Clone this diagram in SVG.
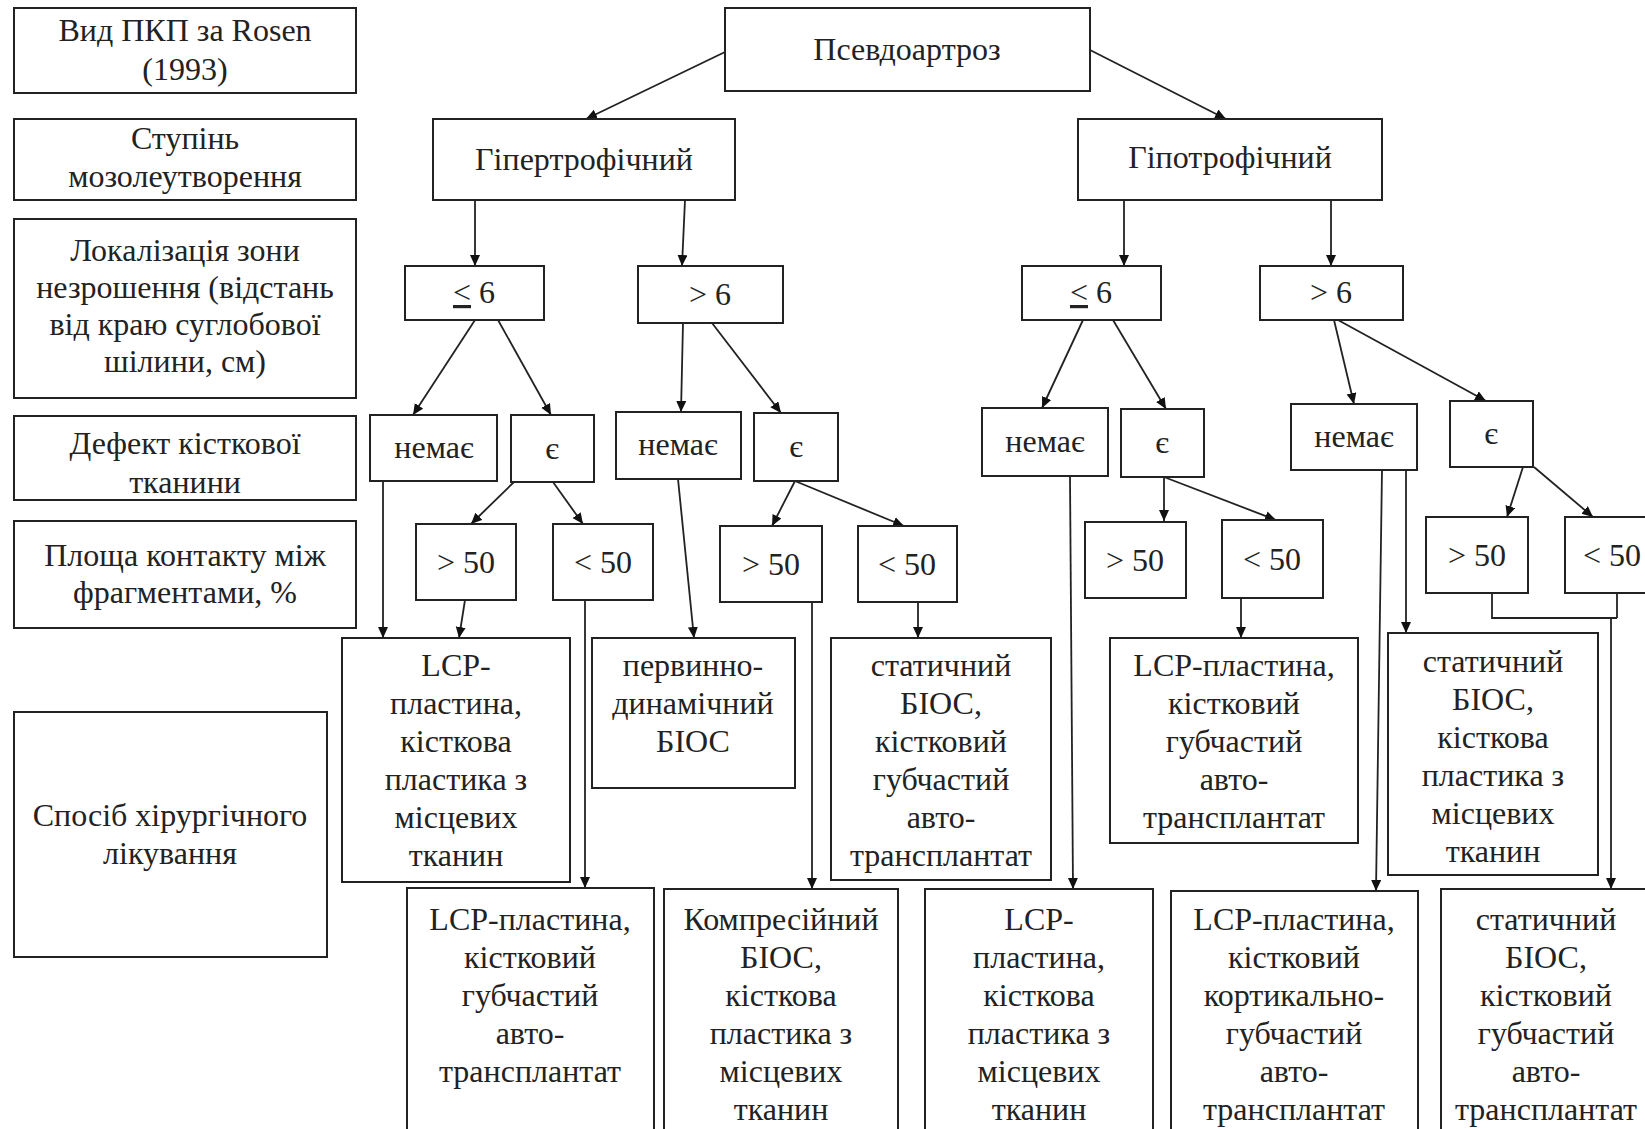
<svg xmlns="http://www.w3.org/2000/svg" width="1645" height="1129" viewBox="0 0 1645 1129">
<defs>
<marker id="ah" markerUnits="userSpaceOnUse" markerWidth="12" markerHeight="12" refX="11" refY="5" orient="auto">
<path d="M0,0 L11,5 L0,10 z" fill="#111"/>
</marker>
<style>
rect{fill:#fff;stroke:#222;stroke-width:2}
text{font-family:"Liberation Serif","Times New Roman",serif;font-size:32px;fill:#222;text-anchor:middle}
.c line,.c polyline{stroke:#222;stroke-width:1.8;fill:none}
.u{text-decoration:underline}
</style>
</defs>
<rect x="0" y="0" width="1645" height="1129" style="fill:#fff;stroke:none"/>

<g id="connectors" class="c">
<line x1="725" y1="52" x2="586" y2="119" marker-end="url(#ah)"/>
<line x1="1090" y1="50" x2="1226" y2="119" marker-end="url(#ah)"/>
<line x1="475" y1="200" x2="475" y2="266" marker-end="url(#ah)"/>
<line x1="685" y1="200" x2="682" y2="266" marker-end="url(#ah)"/>
<line x1="1124" y1="200" x2="1124" y2="266" marker-end="url(#ah)"/>
<line x1="1331" y1="200" x2="1331" y2="266" marker-end="url(#ah)"/>
<line x1="475" y1="320" x2="413" y2="415" marker-end="url(#ah)"/>
<line x1="498" y1="320" x2="551" y2="415" marker-end="url(#ah)"/>
<line x1="683" y1="323" x2="681" y2="412" marker-end="url(#ah)"/>
<line x1="712" y1="323" x2="781" y2="413" marker-end="url(#ah)"/>
<line x1="1083" y1="320" x2="1042" y2="408" marker-end="url(#ah)"/>
<line x1="1113" y1="320" x2="1166" y2="409" marker-end="url(#ah)"/>
<line x1="1334" y1="320" x2="1354" y2="404" marker-end="url(#ah)"/>
<line x1="1338" y1="320" x2="1486" y2="401" marker-end="url(#ah)"/>
<line x1="383" y1="481" x2="383" y2="638" marker-end="url(#ah)"/>
<line x1="514" y1="482" x2="471" y2="524" marker-end="url(#ah)"/>
<line x1="553" y1="482" x2="583" y2="524" marker-end="url(#ah)"/>
<line x1="465" y1="600" x2="459" y2="638" marker-end="url(#ah)"/>
<line x1="585" y1="600" x2="585" y2="888" marker-end="url(#ah)"/>
<line x1="678" y1="479" x2="694" y2="638" marker-end="url(#ah)"/>
<line x1="795" y1="481" x2="772" y2="526" marker-end="url(#ah)"/>
<line x1="795" y1="481" x2="904" y2="526" marker-end="url(#ah)"/>
<line x1="812" y1="602" x2="812" y2="889" marker-end="url(#ah)"/>
<line x1="918" y1="602" x2="918" y2="638" marker-end="url(#ah)"/>
<line x1="1070" y1="476" x2="1073" y2="889" marker-end="url(#ah)"/>
<line x1="1164" y1="477" x2="1164" y2="521" marker-end="url(#ah)"/>
<line x1="1164" y1="477" x2="1276" y2="520" marker-end="url(#ah)"/>
<line x1="1241" y1="598" x2="1241" y2="638" marker-end="url(#ah)"/>
<line x1="1382" y1="470" x2="1376" y2="891" marker-end="url(#ah)"/>
<line x1="1406" y1="470" x2="1406" y2="633" marker-end="url(#ah)"/>
<line x1="1523" y1="467" x2="1507" y2="517" marker-end="url(#ah)"/>
<line x1="1534" y1="467" x2="1593" y2="517" marker-end="url(#ah)"/>
<polyline points="1492,593 1492,618 1617,618"/>
<line x1="1617" y1="593" x2="1617" y2="618"/>
<line x1="1611" y1="618" x2="1611" y2="889" marker-end="url(#ah)"/>
</g>

<g id="label-type">
<rect x="14" y="8" width="342" height="85"/>
<text x="185" y="41">Вид ПКП за Rosen</text>
<text x="185" y="80">(1993)</text>
</g>
<g id="label-callus">
<rect x="14" y="119" width="342" height="81"/>
<text x="185" y="149">Ступінь</text>
<text x="185" y="187">мозолеутворення</text>
</g>
<g id="label-location">
<rect x="14" y="219" width="342" height="179"/>
<text x="185" y="261">Локалізація зони</text>
<text x="185" y="298">незрошення (відстань</text>
<text x="185" y="335">від краю суглобової</text>
<text x="185" y="372">шілини, см)</text>
</g>
<g id="label-defect">
<rect x="14" y="416" width="342" height="84"/>
<text x="185" y="454">Дефект  кісткової</text>
<text x="185" y="493">тканини</text>
</g>
<g id="label-contact">
<rect x="14" y="521" width="342" height="107"/>
<text x="185" y="566">Площа контакту між</text>
<text x="185" y="603">фрагментами,  %</text>
</g>
<g id="label-method">
<rect x="14" y="712" width="313" height="245"/>
<text x="170" y="826">Спосіб хірургічного</text>
<text x="170" y="864">лікування</text>
</g>

<g id="root">
<rect x="725" y="8" width="365" height="83"/>
<text x="907" y="60">Псевдоартроз</text>
</g>
<g id="hyper">
<rect x="433" y="119" width="302" height="81"/>
<text x="584" y="170">Гіпертрофічний</text>
</g>
<g id="hypo">
<rect x="1078" y="119" width="304" height="81"/>
<text x="1230" y="168">Гіпотрофічний</text>
</g>

<g id="hyper-le6">
<rect x="405" y="266" width="139" height="54"/>
<text x="474" y="303"><tspan class="u">&lt;</tspan> 6</text>
</g>
<g id="hyper-gt6">
<rect x="638" y="266" width="145" height="57"/>
<text x="710" y="305">&gt; 6</text>
</g>
<g id="hypo-le6">
<rect x="1022" y="266" width="139" height="54"/>
<text x="1091" y="303"><tspan class="u">&lt;</tspan> 6</text>
</g>
<g id="hypo-gt6">
<rect x="1260" y="266" width="143" height="54"/>
<text x="1331" y="303">&gt; 6</text>
</g>

<g id="a-no">
<rect x="370" y="415" width="127" height="66"/>
<text x="434" y="458">немає</text>
</g>
<g id="a-yes">
<rect x="511" y="415" width="83" height="67"/>
<text x="552" y="459">є</text>
</g>
<g id="b-no">
<rect x="616" y="412" width="125" height="67"/>
<text x="678" y="455">немає</text>
</g>
<g id="b-yes">
<rect x="754" y="413" width="84" height="68"/>
<text x="796" y="457">є</text>
</g>
<g id="c-no">
<rect x="982" y="408" width="126" height="68"/>
<text x="1045" y="452">немає</text>
</g>
<g id="c-yes">
<rect x="1121" y="409" width="83" height="68"/>
<text x="1162" y="453">є</text>
</g>
<g id="d-no">
<rect x="1291" y="404" width="126" height="66"/>
<text x="1354" y="447">немає</text>
</g>
<g id="d-yes">
<rect x="1450" y="401" width="83" height="66"/>
<text x="1491" y="444">є</text>
</g>

<g id="a-gt50">
<rect x="416" y="524" width="100" height="76"/>
<text x="466" y="573">&gt; 50</text>
</g>
<g id="a-lt50">
<rect x="553" y="524" width="100" height="76"/>
<text x="603" y="573">&lt; 50</text>
</g>
<g id="b-gt50">
<rect x="720" y="526" width="102" height="76"/>
<text x="771" y="575">&gt; 50</text>
</g>
<g id="b-lt50">
<rect x="858" y="526" width="99" height="76"/>
<text x="907" y="575">&lt; 50</text>
</g>
<g id="c-gt50">
<rect x="1085" y="522" width="101" height="76"/>
<text x="1135" y="571">&gt; 50</text>
</g>
<g id="c-lt50">
<rect x="1222" y="520" width="101" height="78"/>
<text x="1272" y="570">&lt; 50</text>
</g>
<g id="d-gt50">
<rect x="1426" y="517" width="102" height="76"/>
<text x="1477" y="566">&gt; 50</text>
</g>
<g id="d-lt50">
<rect x="1565" y="517" width="95" height="76"/>
<text x="1612" y="566">&lt; 50</text>
</g>

<g id="r1">
<rect x="342" y="638" width="228" height="244"/>
<text x="456" y="676">LCP-</text>
<text x="456" y="714">пластина,</text>
<text x="456" y="752">кісткова</text>
<text x="456" y="790">пластика з</text>
<text x="456" y="828">місцевих</text>
<text x="456" y="866">тканин</text>
</g>
<g id="r2">
<rect x="592" y="638" width="203" height="150"/>
<text x="693" y="676">первинно-</text>
<text x="693" y="714">динамічний</text>
<text x="693" y="752">БІОС</text>
</g>
<g id="r3">
<rect x="831" y="638" width="220" height="242"/>
<text x="941" y="676">статичний</text>
<text x="941" y="714">БІОС,</text>
<text x="941" y="752">кістковий</text>
<text x="941" y="790">губчастий</text>
<text x="941" y="828">авто-</text>
<text x="941" y="866">трансплантат</text>
</g>
<g id="r4">
<rect x="1110" y="638" width="248" height="205"/>
<text x="1234" y="676">LCP-пластина,</text>
<text x="1234" y="714">кістковий</text>
<text x="1234" y="752">губчастий</text>
<text x="1234" y="790">авто-</text>
<text x="1234" y="828">трансплантат</text>
</g>
<g id="r5">
<rect x="1388" y="633" width="210" height="242"/>
<text x="1493" y="672">статичний</text>
<text x="1493" y="710">БІОС,</text>
<text x="1493" y="748">кісткова</text>
<text x="1493" y="786">пластика з</text>
<text x="1493" y="824">місцевих</text>
<text x="1493" y="862">тканин</text>
</g>

<g id="b1">
<rect x="407" y="888" width="247" height="260"/>
<text x="530" y="930">LCP-пластина,</text>
<text x="530" y="968">кістковий</text>
<text x="530" y="1006">губчастий</text>
<text x="530" y="1044">авто-</text>
<text x="530" y="1082">трансплантат</text>
</g>
<g id="b2">
<rect x="664" y="889" width="234" height="260"/>
<text x="781" y="930">Компресійний</text>
<text x="781" y="968">БІОС,</text>
<text x="781" y="1006">кісткова</text>
<text x="781" y="1044">пластика з</text>
<text x="781" y="1082">місцевих</text>
<text x="781" y="1120">тканин</text>
</g>
<g id="b3">
<rect x="925" y="889" width="228" height="260"/>
<text x="1039" y="930">LCP-</text>
<text x="1039" y="968">пластина,</text>
<text x="1039" y="1006">кісткова</text>
<text x="1039" y="1044">пластика з</text>
<text x="1039" y="1082">місцевих</text>
<text x="1039" y="1120">тканин</text>
</g>
<g id="b4">
<rect x="1171" y="891" width="247" height="260"/>
<text x="1294" y="930">LCP-пластина,</text>
<text x="1294" y="968">кістковий</text>
<text x="1294" y="1006">кортикально-</text>
<text x="1294" y="1044">губчастий</text>
<text x="1294" y="1082">авто-</text>
<text x="1294" y="1120">трансплантат</text>
</g>
<g id="b5">
<rect x="1441" y="889" width="260" height="260"/>
<text x="1546" y="930">статичний</text>
<text x="1546" y="968">БІОС,</text>
<text x="1546" y="1006">кістковий</text>
<text x="1546" y="1044">губчастий</text>
<text x="1546" y="1082">авто-</text>
<text x="1546" y="1120">трансплантат</text>
</g>
</svg>
